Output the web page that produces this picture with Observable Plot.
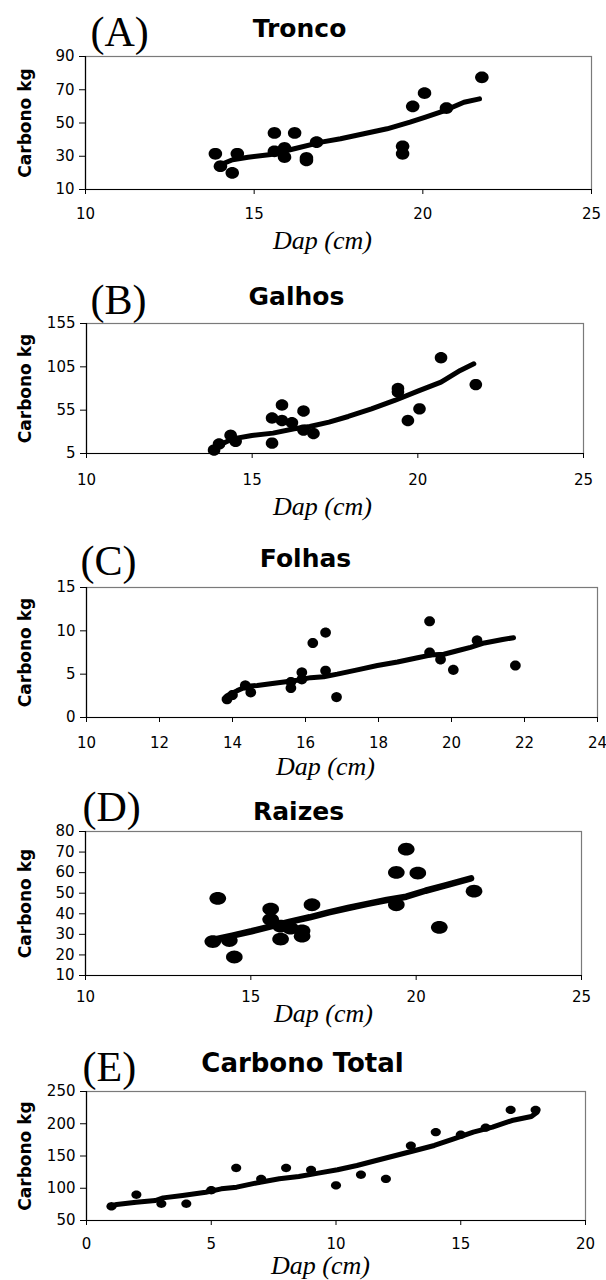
<!DOCTYPE html>
<html>
<head>
<meta charset="utf-8">
<script src="https://cdn.jsdelivr.net/npm/d3@7"></script>
<script src="https://cdn.jsdelivr.net/npm/@observablehq/plot@0.6"></script>
<style>
  html, body { margin: 0; padding: 0; background: #fff; }
  #page { position: relative; width: 606px; height: 1280px; overflow: hidden; background: #fff; }
  .panel { position: absolute; left: 0; }
</style>
</head>
<body>
<div id="page"></div>
<script>
// ---------------- DATA ----------------
const panelLetters = ["(A)", "(B)", "(C)", "(D)", "(E)"];
const panelTitles = ["Tronco", "Galhos", "Folhas", "Raizes", "Carbono Total"];
const yLabel = "Carbono kg";
const xLabel = "Dap (cm)";

// DAP of the 18 trees (panels A-D)
const dap = [13.85, 14.0, 14.35, 14.5, 15.6, 15.6, 15.9, 15.9, 16.2, 16.55, 16.55, 16.85, 19.4, 19.4, 19.7, 20.05, 20.7, 21.75];

const carbTronco = [31.5, 24, 20, 31.5, 44, 33, 35, 29.5, 44, 29, 27.5, 38.5, 36, 31.5, 60, 68, 59, 77.5];
const carbGalhos = [9, 16, 26, 19, 46, 17, 61, 43, 40.5, 54, 32, 28, 80, 76, 43, 56.5, 115.5, 84.5];
const carbFolhas = [2.1, 2.6, 3.7, 2.9, 4.1, 3.4, 5.2, 4.4, 8.6, 9.8, 5.4, 2.35, 11.1, 7.5, 6.7, 5.5, 8.9, 6.0];
const carbRaizes = [26.5, 47.5, 27, 19, 42.3, 37.2, 27.7, 34, 33, 31.7, 29.1, 44.4, 60.1, 44.4, 71.4, 59.8, 33.4, 51];

// panel E: trees 1..18
const arvore = [1, 2, 3, 4, 5, 6, 7, 8, 9, 10, 11, 12, 13, 14, 15, 16, 17, 18];
const carbTotal = [72, 90, 76, 76, 97, 131.5, 114.5, 131.5, 128.5, 104.5, 121, 114.5, 166, 187, 183, 194, 221.5, 221.5];

// fitted curves
const fitDapTronco = [14.07, 14.36, 14.82, 15.5, 16.19, 16.99, 17.56, 18.25, 18.94, 19.62, 20.08, 20.65, 21.22, 21.68];
const fitTronco    = [25.5, 27.9, 29.4, 31.1, 34.5, 38.5, 40.5, 43.5, 46.5, 50.5, 53.5, 57.5, 62.5, 64.5];
const fitDapGalhos = [13.88, 14.41, 14.99, 15.63, 16.27, 16.74, 17.32, 17.9, 18.6, 19.3, 20.0, 20.7, 21.28, 21.69];
const fitGalhos    = [12.3, 21.9, 25.8, 28.5, 33.5, 36.2, 41.2, 47.7, 56.5, 66.2, 76.9, 87.3, 100.8, 108.5];
const fitDapFolhas = [13.85, 14.13, 14.4, 14.68, 15.04, 15.41, 15.77, 16.14, 16.5, 16.87, 17.42, 17.97, 18.52, 19.07, 19.42, 19.79, 20.16, 20.52, 20.9, 21.4, 21.7];
const fitFolhas    = [2.5, 3.1, 3.6, 3.7, 3.9, 4.1, 4.3, 4.6, 4.7, 5.0, 5.5, 6.0, 6.4, 6.9, 7.2, 7.3, 7.7, 8.1, 8.6, 9.0, 9.2];
const fitDapRaizes = [13.91, 14.44, 15.02, 15.61, 16.19, 16.78, 17.36, 17.94, 18.53, 19.11, 19.7, 20.28, 20.86, 21.66];
const fitRaizes    = [27.5, 29.4, 31.5, 33.9, 36.2, 38.3, 40.7, 42.8, 44.8, 46.7, 48.3, 51.2, 53.7, 57.2];
const fitArvore    = [1, 1.21, 1.99, 2.76, 3.07, 3.85, 4.78, 5.4, 6.02, 6.96, 7.73, 8.51, 9.29, 10.06, 10.84, 11.61, 12.39, 13.17, 13.94, 14.72, 15.5, 16.27, 17.05, 17.83, 18.06];
const fitTotal     = [72.2, 74.8, 78.4, 81, 85.1, 88.8, 93.9, 99.1, 101.7, 109.4, 114.6, 118.2, 123.4, 128.6, 135.3, 143, 150.8, 158.5, 166.3, 176.6, 187, 194.7, 205, 211.2, 218];

// tick labels
const xTicksA = [10, 15, 20, 25];
const xTicksC = [10, 12, 14, 16, 18, 20, 22, 24];
const xTicksE = [0, 5, 10, 15, 20];
const yTicksA = [10, 30, 50, 70, 90];
const yTicksB = [5, 55, 105, 155];
const yTicksC = [0, 5, 10, 15];
const yTicksD = [10, 20, 30, 40, 50, 60, 70, 80];
const yTicksE = [50, 100, 150, 200, 250];

// ---------------- LAYOUT ----------------
const panels = [
  {xs: dap, ys: carbTronco, fx: fitDapTronco, fy: fitTronco, xt: xTicksA, yt: yTicksA,
   top: 0, h: 262, L: 85, R: 591, T: 56, B: 189, xPad: 14,
   letter: [5, -23.5], title: [299, -27.5, 25], dapLbl: [322, 51], r: 6.3, asp: 1.15, sw: 5},
  {xs: dap, ys: carbGalhos, fx: fitDapGalhos, fy: fitGalhos, xt: xTicksA, yt: yTicksB,
   top: 262, h: 266, L: 86, R: 583, T: 323, B: 453, xPad: 16,
   letter: [4, -23], title: [296, -26.5, 25], dapLbl: [322, 53], r: 6, asp: 1.1, sw: 5},
  {xs: dap, ys: carbFolhas, fx: fitDapFolhas, fy: fitFolhas, xt: xTicksC, yt: yTicksC,
   top: 528, h: 257, L: 86, R: 597, T: 587, B: 717, xPad: 15,
   letter: [-6, -25.5], title: [305, -29, 25], dapLbl: [325, 49], r: 5.2, asp: 1.05, sw: 5},
  {xs: dap, ys: carbRaizes, fx: fitDapRaizes, fy: fitRaizes, xt: xTicksA, yt: yTicksD,
   top: 785, h: 245, L: 85, R: 581, T: 831, B: 975, xPad: 11,
   letter: [-3, -23.5], title: [298, -19.5, 25], dapLbl: [323, 38], r: 7.3, asp: 1.3, sw: 6.5},
  {xs: arvore, ys: carbTotal, fx: fitArvore, fy: fitTotal, xt: xTicksE, yt: yTicksE,
   top: 1030, h: 250, L: 86, R: 585, T: 1091, B: 1220, xPad: 13,
   letter: [-4, -24], title: [302, -27.5, 26], dapLbl: [320, 45], r: 4.6, asp: 1.2, sw: 5}
];

// ellipse-shaped marker (the source image is horizontally stretched)
function ellipseSymbol(aspect) {
  return {
    draw(context, size) {
      const r = Math.sqrt(size / Math.PI);
      const rx = r * Math.sqrt(aspect), ry = r / Math.sqrt(aspect);
      const n = 32;
      for (let i = 0; i < n; ++i) {
        const a = (2 * Math.PI * i) / n;
        const px = rx * Math.cos(a), py = ry * Math.sin(a);
        if (i === 0) context.moveTo(px, py); else context.lineTo(px, py);
      }
      context.closePath();
    }
  };
}

const page = document.getElementById("page");

panels.forEach((p, i) => {
  const pts = p.xs.map((x, k) => ({x, y: p.ys[k]}));
  const fit = p.fx.map((x, k) => ({x, y: p.fy[k]}));
  const W = 606;
  const svg = Plot.plot({
    width: W,
    height: p.h,
    marginLeft: p.L,
    marginRight: W - p.R,
    marginTop: p.T - p.top,
    marginBottom: p.top + p.h - p.B,
    style: {fontFamily: "'DejaVu Sans', sans-serif", fontSize: "15px", color: "#000", background: "#fff"},
    x: {domain: [p.xt[0], p.xt[p.xt.length - 1]]},
    y: {domain: [p.yt[0], p.yt[p.yt.length - 1]]},
    marks: [
      Plot.frame({stroke: "#7a7a7a", strokeWidth: 1.2}),
      Plot.ruleX([p.xt[0]], {stroke: "#000", strokeWidth: 1.2}),
      Plot.ruleY([p.yt[0]], {stroke: "#000", strokeWidth: 1.2}),
      Plot.axisY(p.yt, {tickSize: 6, tickPadding: 5, label: null, stroke: "#000"}),
      Plot.axisX(p.xt, {tickSize: 5, tickPadding: p.xPad, label: null, stroke: "#000"}),
      Plot.line(fit, {x: "x", y: "y", stroke: "#000", strokeWidth: p.sw, strokeLinejoin: "round"}),
      Plot.dot(pts, {x: "x", y: "y", r: p.r, fill: "#000", stroke: "none", symbol: ellipseSymbol(p.asp)}),
      Plot.text([panelLetters[i]], {text: d => d, frameAnchor: "top-left", dx: p.letter[0], dy: p.letter[1],
        textAnchor: "start", lineAnchor: "middle", fontFamily: "'Liberation Serif', serif", fontSize: 42, fill: "#000"}),
      Plot.text([panelTitles[i]], {text: d => d, frameAnchor: "top-left", dx: p.title[0] - p.L, dy: p.title[1],
        textAnchor: "middle", lineAnchor: "middle", fontFamily: "'DejaVu Sans', sans-serif", fontWeight: "bold", fontSize: p.title[2], fill: "#000"}),
      Plot.text([yLabel], {text: d => d, frameAnchor: "left", dx: 25 - p.L, rotate: -90,
        textAnchor: "middle", lineAnchor: "middle", fontFamily: "'DejaVu Sans', sans-serif", fontWeight: "bold", fontSize: 17, fill: "#000"}),
      Plot.text([xLabel], {text: d => d, frameAnchor: "bottom-left", dx: p.dapLbl[0] - p.L, dy: p.dapLbl[1],
        textAnchor: "middle", lineAnchor: "middle", fontFamily: "'Liberation Serif', serif", fontStyle: "italic", fontSize: 26, fill: "#000"})
    ]
  });
  const div = document.createElement("div");
  div.className = "panel";
  div.style.top = p.top + "px";
  div.appendChild(svg);
  page.appendChild(div);
});
</script>
</body>
</html>
